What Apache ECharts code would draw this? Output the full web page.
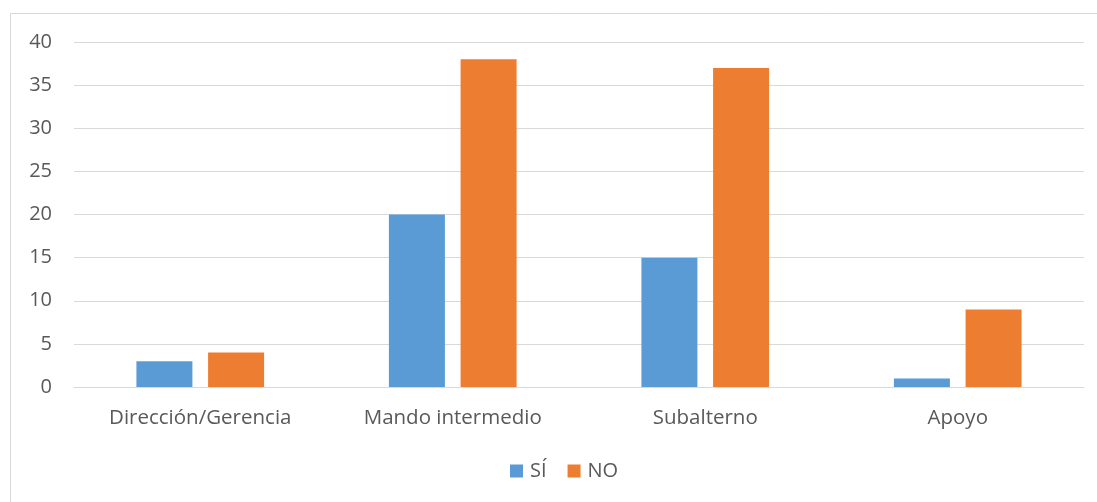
<!DOCTYPE html>
<html>
<head>
<meta charset="utf-8">
<script src="https://cdn.jsdelivr.net/npm/echarts@6/dist/echarts.min.js"></script>
<style>
  html, body { margin: 0; padding: 0; background: #ffffff; }
  #chart { width: 1097px; height: 502px; }
</style>
</head>
<body>
<div id="chart"></div>
<script>
// Categories and counts per group
const categories = ['Dirección/Gerencia', 'Mando intermedio', 'Subalterno', 'Apoyo'];
const siValues = [3, 20, 15, 1];
const noValues = [4, 38, 37, 9];
const seriesNames = ['SÍ', 'NO'];

const FONT = 'Open Sans';
const TEXT_COLOR = '#595959';
const LINE_COLOR = '#d9d9d9';

const chart = echarts.init(document.getElementById('chart'), null, { renderer: 'canvas' });

chart.setOption({
  animation: false,
  textStyle: { fontFamily: FONT },
  graphic: [{
    type: 'rect',
    shape: { x: 10.5, y: 13.5, width: 1100, height: 500 },
    style: { fill: 'none', stroke: LINE_COLOR, lineWidth: 1 },
    silent: true
  }],
  grid: { left: 74, right: 13, top: 42, bottom: 115, containLabel: false },
  legend: {
    data: seriesNames,
    bottom: 16,
    left: 505,
    itemWidth: 13,
    itemHeight: 13,
    itemGap: 21,
    icon: 'rect',
    textStyle: { color: TEXT_COLOR, fontSize: 20, fontFamily: FONT, padding: [0, 0, 0, 2] }
  },
  xAxis: {
    type: 'category',
    data: categories,
    axisLine: { show: true, lineStyle: { color: LINE_COLOR, width: 1 } },
    axisTick: { show: false },
    axisLabel: { color: TEXT_COLOR, fontSize: 20.5, margin: 21, fontFamily: FONT }
  },
  yAxis: {
    type: 'value',
    min: 0,
    max: 40,
    interval: 5,
    axisLine: { show: false },
    axisTick: { show: false },
    splitLine: { lineStyle: { color: LINE_COLOR, width: 1 } },
    axisLabel: { color: TEXT_COLOR, fontSize: 20, margin: 22, fontFamily: FONT }
  },
  series: [
    {
      name: seriesNames[0],
      type: 'bar',
      data: siValues,
      barWidth: 56,
      barGap: '28%',
      itemStyle: { color: '#5b9bd5' }
    },
    {
      name: seriesNames[1],
      type: 'bar',
      data: noValues,
      barWidth: 56,
      barGap: '28%',
      itemStyle: { color: '#ed7d31' }
    }
  ]
});
</script>
</body>
</html>
